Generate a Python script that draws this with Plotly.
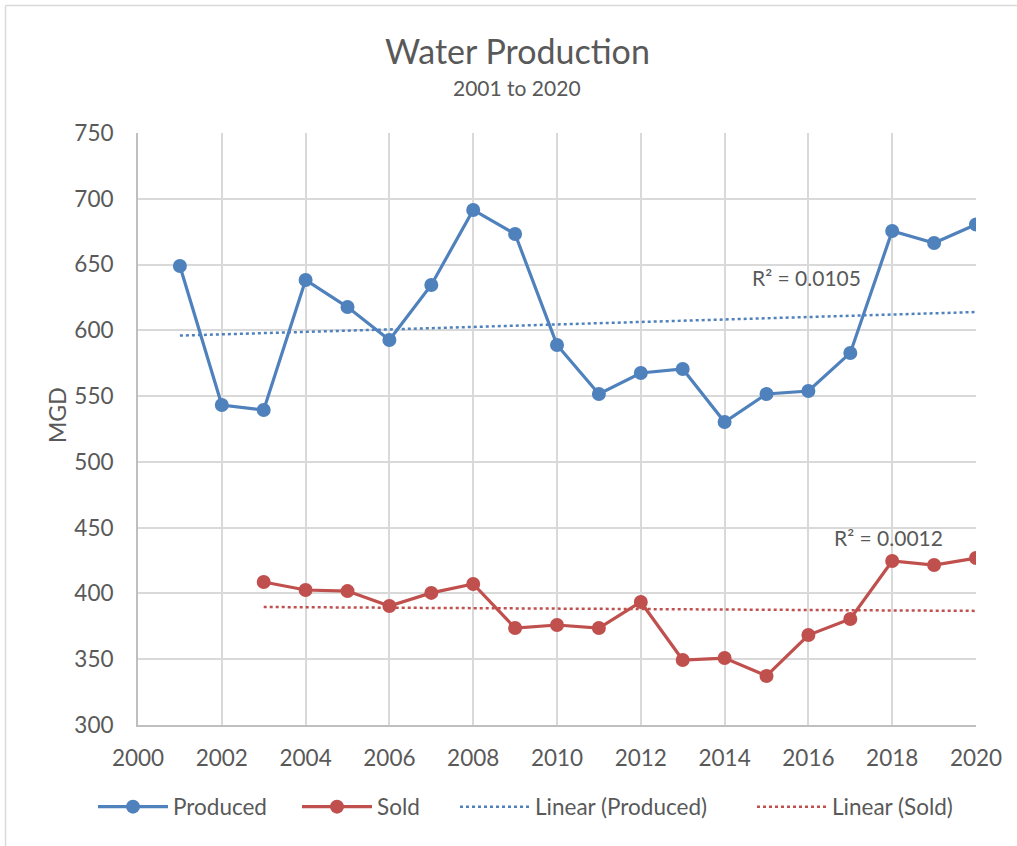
import numpy as np
import plotly.graph_objects as go

years_produced = list(range(2001, 2021))
produced = [648.9, 543.2, 539.4, 638.3, 617.7, 592.7, 634.5, 691.5, 673.2, 588.9,
            551.6, 567.6, 570.6, 530.3, 551.6, 553.9, 582.8, 675.5, 666.4, 680.4]
years_sold = list(range(2003, 2021))
sold = [408.7, 402.6, 401.8, 390.5, 400.4, 407.2, 373.7, 376.0, 373.7, 393.5,
        349.4, 350.9, 337.3, 368.4, 380.6, 424.7, 421.6, 426.9]
x_ticks = list(range(2000, 2021, 2))
y_ticks = list(range(300, 751, 50))

BLUE = "#4F81BD"
RED = "#C0504D"
TXT = "#595959"
GRID = "#D9D9D9"
FONT = "Lato"

W, H = 1017, 846
L, R, T, B = 138, 976, 133, 725


def px_x(p):
    return (p - L) / (R - L)


def px_y(p):
    return (B - p) / (B - T)


def fit(xs, ys):
    xs = np.array(xs, float)
    ys = np.array(ys, float)
    m, c = np.polyfit(xs, ys, 1)
    pred = m * xs + c
    r2 = 1 - np.sum((ys - pred) ** 2) / np.sum((ys - ys.mean()) ** 2)
    return xs, pred, r2


xp, tp, r2p = fit(years_produced, produced)
xs_, ts, r2s = fit(years_sold, sold)

fig = go.Figure()
fig.add_trace(go.Scatter(x=years_produced, y=produced, name="Produced",
                         mode="lines+markers", legend="legend",
                         line=dict(color=BLUE, width=3.2),
                         marker=dict(color=BLUE, size=14)))
fig.add_trace(go.Scatter(x=years_sold, y=sold, name="Sold",
                         mode="lines+markers", legend="legend2",
                         line=dict(color=RED, width=3.2),
                         marker=dict(color=RED, size=14)))
fig.add_trace(go.Scatter(x=xp, y=tp, name="Linear (Produced)", mode="lines",
                         legend="legend3",
                         line=dict(color=BLUE, width=2.5, dash="dot")))
fig.add_trace(go.Scatter(x=xs_, y=ts, name="Linear (Sold)", mode="lines",
                         legend="legend4",
                         line=dict(color=RED, width=2.5, dash="dot")))


def leg(xpx):
    return dict(orientation="h", x=px_x(xpx), y=px_y(807),
                xanchor="left", yanchor="middle",
                font=dict(size=22.5, color=TXT, family=FONT), itemwidth=70,
                bgcolor="rgba(0,0,0,0)")


fig.update_layout(
    width=W, height=H,
    margin=dict(l=L, r=W - R, t=T, b=H - B),
    paper_bgcolor="white", plot_bgcolor="white",
    font=dict(family=FONT, color=TXT, size=21),
    showlegend=True,
    legend=leg(93), legend2=leg(297), legend3=leg(455), legend4=leg(752),
    xaxis=dict(range=[2000, 2020], tickvals=x_ticks, showgrid=True,
               gridcolor=GRID, gridwidth=1.5, zeroline=False,
               showline=True, linecolor="#BFBFBF", linewidth=2,
               ticks="", ticklabelstandoff=12,
               tickfont=dict(size=22.5, color=TXT)),
    yaxis=dict(range=[300, 750], tickvals=y_ticks, showgrid=True,
               gridcolor=GRID, gridwidth=1.5, zeroline=False,
               showline=True, linecolor="#BFBFBF", linewidth=2,
               ticks="", ticklabelstandoff=18,
               tickfont=dict(size=22.5, color=TXT)),
    annotations=[
        dict(text="Water Production", xref="paper", yref="paper",
             x=px_x(517), y=px_y(50), showarrow=False,
             font=dict(size=34, color=TXT), xanchor="center", yanchor="middle"),
        dict(text="2001 to 2020", xref="paper", yref="paper",
             x=px_x(517), y=px_y(87), showarrow=False,
             font=dict(size=21, color=TXT), xanchor="center", yanchor="middle"),
        dict(text="MGD", xref="paper", yref="paper",
             x=px_x(57), y=px_y(415), showarrow=False, textangle=-90,
             font=dict(size=23, color=TXT), xanchor="center", yanchor="middle"),
        dict(text=f"R² = {r2p:.4f}", xref="x", yref="y",
             x=2015.95, y=640.5, showarrow=False,
             font=dict(size=21, color=TXT), xanchor="center", yanchor="middle"),
        dict(text=f"R² = {r2s:.4f}", xref="x", yref="y",
             x=2017.92, y=442.5, showarrow=False,
             font=dict(size=21, color=TXT), xanchor="center", yanchor="middle"),
    ],
    shapes=[
        dict(type="line", xref="paper", yref="paper",
             x0=px_x(5.5), x1=px_x(1017), y0=px_y(5.5), y1=px_y(5.5),
             line=dict(color="#D9D9D9", width=1.5)),
        dict(type="line", xref="paper", yref="paper",
             x0=px_x(5.5), x1=px_x(5.5), y0=px_y(5.5), y1=px_y(846),
             line=dict(color="#D9D9D9", width=1.5)),
    ],
)

fig.write_html("out.html", config={"displayModeBar": False},
               post_script="document.body.style.margin='0';")
